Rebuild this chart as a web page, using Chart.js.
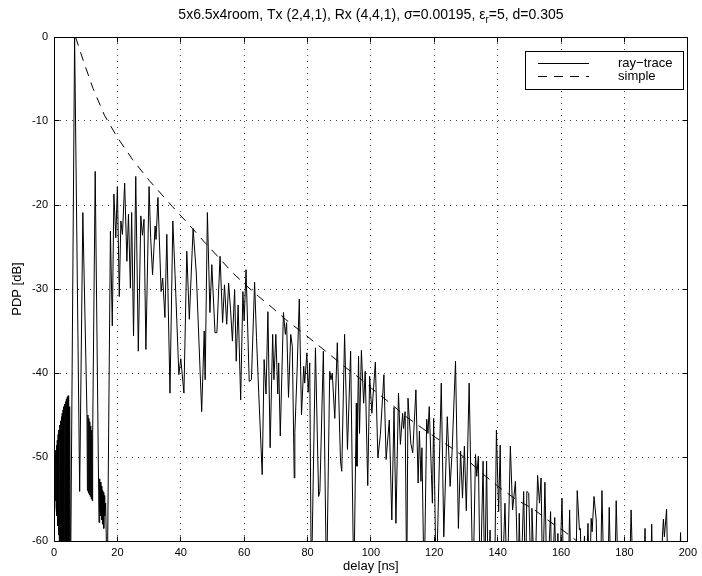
<!DOCTYPE html>
<html>
<head>
<meta charset="utf-8">
<script src="https://cdn.jsdelivr.net/npm/chart.js@4.4.0/dist/chart.umd.min.js"></script>
<style>
  html, body { margin: 0; padding: 0; background: #fff; }
  #wrap { width: 702px; height: 576px; }
</style>
</head>
<body>
<div id="wrap"><canvas id="c" width="702" height="576"></canvas></div>
<script>
const FONT = '"Liberation Sans", Arial, Helvetica, sans-serif';

const xTicks = [0, 20, 40, 60, 80, 100, 120, 140, 160, 180, 200];
const yTicks = [0, -10, -20, -30, -40, -50, -60];

// ray-trace power delay profile: delay [ns] and power [dB]
const rayDelay = [
  0.00, 0.13, 0.26, 0.39, 0.52, 0.65, 0.78, 0.91, 1.04, 1.17, 1.30, 1.43, 1.56, 1.69, 1.82, 1.95,
  2.08, 2.21, 2.34, 2.47, 2.60, 2.73, 2.86, 2.99, 3.12, 3.25, 3.38, 3.51, 3.64, 3.77, 3.90, 4.03,
  4.16, 4.29, 4.42, 4.55, 4.68, 4.81, 4.94, 5.20, 6.5, 8.1, 9.1, 10.4, 10.55, 10.7, 10.85, 11.0,
  11.15, 11.3, 11.45, 11.6, 11.75, 11.9, 12.05, 12.2, 13.0, 14.2, 14.35, 14.5, 14.65, 14.8, 14.95, 15.1,
  15.25, 15.4, 15.55, 15.7, 15.85, 16.0, 16.3, 16.8, 17.8, 18.4, 18.9, 19.5, 20.0, 20.6, 21.1, 21.6,
  22.3, 23.0, 23.5, 24.1, 24.5, 25.1, 25.8, 26.6, 27.4, 27.9, 28.4, 29.0, 30.0, 30.5, 31.1, 31.9,
  32.2, 32.8, 33.8, 34.3, 35.0, 35.6, 36.6, 37.5, 38.2, 39.4, 40.0, 41.0, 41.9, 42.7, 43.9, 44.9,
  46.6, 47.4, 47.7, 48.4, 49.2, 49.8, 50.8, 51.4, 52.4, 53.2, 53.8, 54.5, 55.1, 55.7, 56.3, 57.0,
  57.5, 58.1, 58.9, 59.6, 60.0, 60.6, 61.6, 62.3, 63.3, 63.9, 64.6, 65.7, 66.3, 66.9, 67.5, 68.2,
  69.0, 69.4, 70.0, 70.6, 70.9, 71.4, 72.4, 73.0, 73.4, 74.0, 74.7, 75.2, 75.8, 76.0, 76.7, 77.4,
  78.1, 78.8, 79.1, 79.8, 80.2, 80.7, 81.2, 82.5, 83.5, 83.9, 85.0, 86.0, 87.0, 87.4, 87.8, 88.6,
  89.4, 90.4, 90.8, 91.7, 92.6, 93.6, 94.6, 95.4, 95.6, 96.1, 96.4, 97.0, 97.7, 98.2, 99.0, 99.6,
  100.3, 101.4, 102.2, 103.0, 104.1, 104.8, 105.8, 106.6, 107.3, 107.9, 108.7, 109.3, 110.0, 110.3, 110.8, 111.3,
  111.7, 112.6, 113.2, 114.2, 114.9, 115.3, 115.8, 116.1, 116.8, 117.6, 118.0, 118.4, 119.1, 119.4, 119.8, 120.6,
  122.2, 123.0, 124.1, 125.0, 125.6, 126.7, 127.6, 128.3, 128.9, 129.5, 130.1, 131.0, 132.2, 133.0, 133.4, 133.9,
  134.5, 135.4, 135.9, 136.5, 137.0, 137.6, 137.9, 139.0, 139.6, 140.3, 140.8, 141.4, 142.3, 143.0, 144.0, 144.7,
  145.6, 146.5, 146.8, 147.3, 148.2, 148.8, 149.2, 149.8, 150.6, 150.8, 151.7, 152.6, 153.2, 153.7, 154.2, 154.9,
  155.6, 156.7, 157.1, 158.0, 158.6, 159.0, 159.4, 160.3, 160.9, 162.2, 162.7, 163.2, 164.6, 165.1, 165.8, 166.1,
  166.5, 167.4, 167.8, 168.5, 169.0, 169.5, 169.8, 170.4, 171.1, 171.5, 172.4, 172.9, 173.6, 174.7, 175.2, 175.8,
  176.9, 177.4, 178.1, 181.5, 182.1, 182.8, 186.0, 186.5, 186.9, 188.2, 188.6, 189.0, 191.4, 192.0, 192.3, 192.6,
  193.3, 193.8, 197.3, 197.7, 198.1, 200.0
];
const rayPower = [
  -50.5, -54.5, -50.0, -55.2, -49.2, -56.0, -48.6, -57.0, -48.0, -58.2, -47.3, -59.3, -46.8, -61, -46.2, -62,
  -45.7, -63, -45.2, -64, -44.8, -65, -44.4, -65, -44.0, -65, -43.7, -65, -43.4, -65, -43.1, -65,
  -42.9, -65, -42.7, -64, -43.0, -62, -44.0, -66, 0, -54.1, -20.9, -44.8, -54.0, -45.0, -54.3, -45.4,
  -54.5, -45.8, -54.7, -46.3, -55.0, -46.8, -55.2, -47.2, -16.0, -57.8, -52.6, -56.5, -53.0, -57.0, -53.5, -57.5,
  -54.0, -58.0, -54.2, -58.5, -54.6, -57.0, -55.5, -66, -23.1, -34.4, -18.7, -23.9, -17.8, -30.9, -21.9, -23.5,
  -17.4, -26.7, -21.1, -29.9, -20.9, -35.6, -16.6, -37.4, -21.3, -23.6, -21.7, -37.2, -17.8, -23.9, -28.3, -22.5,
  -24.1, -19.1, -30.3, -28.7, -33.4, -23.5, -42.4, -21.9, -28.3, -40.2, -38.3, -42.4, -25.5, -33.6, -22.8, -28.1,
  -44.6, -35.0, -40.8, -20.9, -32.8, -27.1, -35.2, -35.2, -26.1, -34.0, -29.5, -34.2, -29.3, -32.4, -36.2, -30.1,
  -38.6, -31.9, -43.2, -30.3, -33.8, -27.7, -41.0, -40.8, -29.2, -35.8, -42.4, -52.1, -38.4, -42.5, -32.7, -48.9,
  -35.4, -40.8, -35.4, -42.5, -38.8, -47.5, -32.8, -35.4, -34.0, -42.9, -35.4, -36.8, -52.5, -47.1, -39.8, -31.2,
  -45.0, -39.2, -41.2, -37.6, -42.3, -38.8, -66, -37.0, -54.7, -54.1, -37.4, -66, -39.8, -40.8, -40.0, -45.4,
  -36.4, -50.5, -51.7, -35.4, -49.1, -37.4, -66, -43.6, -51.1, -38.0, -47.2, -37.3, -43.6, -39.8, -53.4, -40.4,
  -44.8, -38.7, -50.1, -47.3, -40.2, -50.3, -45.6, -57.5, -44.1, -57.9, -42.4, -48.5, -44.8, -46.6, -44.6, -66,
  -43.0, -48.4, -49.5, -42.0, -53.1, -46.9, -52.9, -48.9, -66, -45.5, -47.2, -44.0, -52.1, -55.5, -45.4, -66,
  -41.2, -59.5, -45.2, -53.5, -49.5, -38.6, -58.5, -49.3, -54.9, -48.7, -56.4, -41.2, -66, -49.7, -52.3, -49.9,
  -66, -50.5, -66, -50.5, -66, -58.7, -66, -66, -46.8, -56.5, -48.6, -66, -55.5, -66, -48.7, -56.3,
  -52.9, -66, -56.7, -66, -54.1, -66, -54.1, -54.3, -66, -56.1, -66, -52.2, -55.5, -52.5, -66, -53.0,
  -66, -56.5, -66, -57.2, -66, -59.1, -66, -54.9, -66, -66, -56.3, -66, -66, -54.0, -58.7, -58.5,
  -66, -59.4, -66, -57.9, -66, -57.3, -58.9, -54.7, -57.5, -66, -66, -54.0, -66, -66, -56.0, -66,
  -66, -55.2, -66, -66, -56.3, -66, -66, -58.5, -66, -66, -58.0, -66, -66, -59.3, -57.4, -59.5,
  -56.2, -66, -66, -59.0, -66, -66
];

// simple model curve
const simpleDelay = [6.8, 9.5, 12.3, 15.9, 19.9, 24.8, 30.1, 37.4, 43.7, 47.9, 52.1, 56.2, 60.4, 64.6, 68.8,
  73.0, 79.8, 87.0, 92.2, 96.4, 100.1, 104.8, 111.1, 116.3, 120.5, 126.2, 130.3, 135.6, 140.8, 146.0, 151.3,
  156.5, 161.2, 165.0];
const simplePower = [0, -3.1, -6.1, -9.3, -11.9, -14.6, -17.1, -20.2, -22.8, -24.6, -26.3, -28.0, -29.5, -30.9, -32.2,
  -33.6, -35.6, -37.8, -39.4, -40.6, -41.8, -43.2, -45.2, -46.6, -47.7, -49.1, -50.3, -52.1, -53.7, -55.1, -56.2,
  -57.7, -58.9, -60.0];

const seriesNames = ['ray\u2212trace', 'simple'];
const titleParts = ['5x6.5x4room, Tx (2,4,1), Rx (4,4,1), \u03c3=0.00195, \u03b5', 'r', '=5, d=0.305'];
const xTitle = 'delay [ns]';
const yTitle = 'PDP [dB]';

const toPoints = (xs, ys) => xs.map((x, i) => ({ x, y: ys[i] }));

function align(p) { return Math.round(p - 0.5) + 0.5; }

const decorations = {
  id: 'decorations',
  afterDraw(chart) {
    const { ctx, chartArea: a, scales: { x, y } } = chart;
    const L = align(a.left), R = align(a.right), T = align(a.top), B = align(a.bottom);
    ctx.save();
    ctx.setLineDash([]);
    ctx.strokeStyle = '#000';
    ctx.lineWidth = 1;
    // axes box
    ctx.strokeRect(L, T, R - L, B - T);
    // inward tick marks on all four sides
    const tl = 5;
    ctx.beginPath();
    xTicks.forEach(v => {
      const px = align(x.getPixelForValue(v));
      ctx.moveTo(px, B); ctx.lineTo(px, B - tl);
      ctx.moveTo(px, T); ctx.lineTo(px, T + tl);
    });
    yTicks.forEach(v => {
      const py = align(y.getPixelForValue(v));
      ctx.moveTo(L, py); ctx.lineTo(L + tl, py);
      ctx.moveTo(R, py); ctx.lineTo(R - tl, py);
    });
    ctx.stroke();

    // title with subscript
    ctx.fillStyle = '#000';
    ctx.textBaseline = 'alphabetic';
    const big = '14px ' + FONT, small = '10px ' + FONT;
    ctx.font = big; const w0 = ctx.measureText(titleParts[0]).width;
    ctx.font = small; const w1 = ctx.measureText(titleParts[1]).width;
    ctx.font = big; const w2 = ctx.measureText(titleParts[2]).width;
    const cx = (a.left + a.right) / 2;
    let tx = cx - (w0 + w1 + w2) / 2;
    const ty = 19;
    ctx.textAlign = 'left';
    ctx.font = big; ctx.fillText(titleParts[0], tx, ty); tx += w0;
    ctx.font = small; ctx.fillText(titleParts[1], tx, ty + 3.5); tx += w1;
    ctx.font = big; ctx.fillText(titleParts[2], tx, ty);

    // axis titles
    ctx.font = '13px ' + FONT;
    ctx.textAlign = 'center';
    ctx.textBaseline = 'middle';
    ctx.fillText(xTitle, cx, 566);
    ctx.save();
    ctx.translate(17, (a.top + a.bottom) / 2);
    ctx.rotate(-Math.PI / 2);
    ctx.fillText(yTitle, 0, 0);
    ctx.restore();

    // legend box
    const lx = 525, ly = 51, lw = 158, lh = 38;
    ctx.fillStyle = '#fff';
    ctx.fillRect(lx, ly, lw, lh);
    ctx.strokeRect(lx + 0.5, ly + 0.5, lw, lh);
    const rows = [63.5, 76.5];
    chart.data.datasets.forEach((ds, i) => {
      ctx.beginPath();
      ctx.setLineDash(ds.borderDash || []);
      ctx.moveTo(538, rows[i]); ctx.lineTo(589, rows[i]);
      ctx.stroke();
      ctx.setLineDash([]);
      ctx.fillStyle = '#000';
      ctx.textAlign = 'left';
      ctx.font = '13px ' + FONT;
      ctx.fillText(ds.label, 618, rows[i]);
    });
    ctx.restore();
  }
};

new Chart(document.getElementById('c'), {
  type: 'scatter',
  data: {
    datasets: [
      {
        label: seriesNames[0],
        data: toPoints(rayDelay, rayPower),
        showLine: true,
        borderColor: '#000',
        borderWidth: 1,
        pointRadius: 0,
        tension: 0,
        clip: 0
      },
      {
        label: seriesNames[1],
        data: toPoints(simpleDelay, simplePower),
        showLine: true,
        borderColor: '#000',
        borderWidth: 1,
        borderDash: [9, 7],
        pointRadius: 0,
        tension: 0,
        clip: 0
      }
    ]
  },
  plugins: [decorations],
  options: {
    responsive: false,
    animation: false,
    devicePixelRatio: 1,
    layout: { padding: { top: 37, right: 11, left: 0, bottom: 0 } },
    plugins: { legend: { display: false }, title: { display: false }, tooltip: { enabled: false } },
    scales: {
      x: {
        type: 'linear', min: 0, max: 200,
        afterBuildTicks: s => { s.ticks = xTicks.map(v => ({ value: v })); },
        afterFit: s => { s.height = 35; },
        grid: { color: '#444', lineWidth: 1, drawTicks: false },
        border: { display: false, dash: [1, 5] },
        ticks: { color: '#000', padding: 5, maxRotation: 0, font: { family: FONT, size: 11 } }
      },
      y: {
        type: 'linear', min: -60, max: 0,
        afterBuildTicks: s => { s.ticks = yTicks.map(v => ({ value: v })); },
        afterFit: s => { s.width = 54; },
        grid: { color: '#444', lineWidth: 1, drawTicks: false },
        border: { display: false, dash: [1, 5] },
        ticks: { color: '#000', padding: 6, font: { family: FONT, size: 11 } }
      }
    }
  }
});
</script>
</body>
</html>
